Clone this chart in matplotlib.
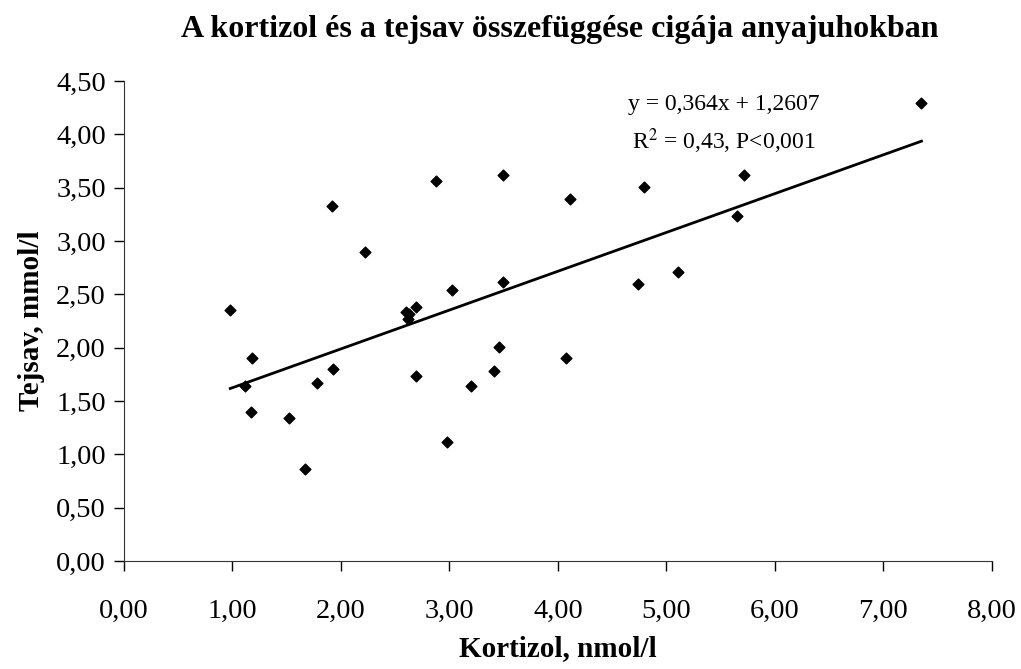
import matplotlib
matplotlib.use("Agg")
import matplotlib.pyplot as plt
import numpy as np
from matplotlib.ticker import FuncFormatter

# Kortizol (nmol/l) es tejsav (mmol/l) ertekek
kortizol = [0.98, 1.18, 1.12, 1.17, 1.52, 1.67, 1.78, 1.93, 1.92, 2.22,
            2.60, 2.63, 2.62, 2.69, 2.69, 2.98, 3.02, 3.20, 3.41, 3.46,
            3.49, 4.07, 2.88, 3.49, 4.11, 7.35, 5.71, 4.79, 5.65, 5.11, 4.74]
tejsav = [2.35, 1.90, 1.64, 1.40, 1.34, 0.86, 1.67, 1.80, 3.33, 2.90,
          2.33, 2.32, 2.27, 2.38, 1.73, 1.12, 2.54, 1.64, 1.78, 2.01,
          2.62, 1.90, 3.56, 3.62, 3.39, 4.29, 3.62, 3.51, 3.23, 2.71, 2.60]

# trendvonal egyutthatoi (y = a*x + b)
slope = 0.364
intercept = 1.2607

plt.rcParams['font.family'] = ['Liberation Serif', 'DejaVu Serif']
plt.rcParams['mathtext.fontset'] = 'stix'

fig = plt.figure(figsize=(10.21, 6.69), dpi=100)
ax = fig.add_axes([0.1214, 0.1614, 0.8502, 0.7175])

ax.scatter(kortizol, tejsav, marker='D', s=30, color='black', zorder=3)

xl = np.array([min(kortizol), max(kortizol)])
ax.plot(xl, slope * xl + intercept, color='black', linewidth=2)

ax.text(5.53, 4.28, 'y = 0,364x + 1,2607', ha='center', va='center', fontsize=17)
ax.text(5.53, 3.94, r'R$^{2}$ = 0,43, P<0,001', ha='center', va='center', fontsize=17)

ax.set_xlim(0, 8)
ax.set_ylim(0, 4.5)
ax.set_xticks(np.arange(0, 8.01, 1))
ax.set_yticks(np.arange(0, 4.51, 0.5))
fmt = FuncFormatter(lambda v, p: ('%.2f' % v).replace('.', ','))
ax.xaxis.set_major_formatter(fmt)
ax.yaxis.set_major_formatter(fmt)
ax.tick_params(labelsize=20.5, length=7, width=1, direction='out', pad=6)
ax.tick_params(axis='x', pad=20)

for s in ['top', 'right']:
    ax.spines[s].set_visible(False)
for s in ['left', 'bottom']:
    ax.spines[s].set_color('#333333')

ax.set_xlabel('Kortizol, nmol/l', fontsize=21, fontweight='bold', labelpad=8)
ax.set_ylabel('Tejsav, mmol/l', fontsize=21, fontweight='bold', labelpad=8)
fig.suptitle('A kortizol és a tejsav összefüggése cigája anyajuhokban',
             fontsize=23, fontweight='bold', x=0.548, y=0.978)

fig.savefig('out.png', dpi=100)
